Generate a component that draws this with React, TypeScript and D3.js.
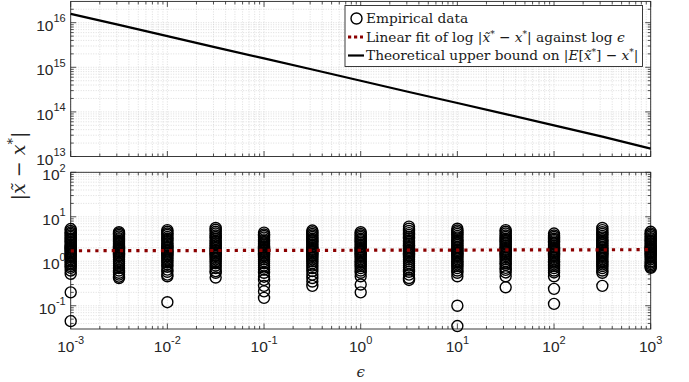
import * as d3 from "d3";
import { useEffect, useRef } from "react";

// epsilon values at which the experiment was run (half-decade steps)
const epsilons = [1e-3, 3.16e-3, 1e-2, 3.16e-2, 0.1, 0.316, 1, 3.16, 10, 31.6, 100, 316, 1000];

// |x~ - x*| for each epsilon column
const empirical = [
  [5.3, 4.8, 4.4, 4.1, 3.8, 3.5, 3.2, 3.0, 2.8, 2.6, 2.4, 2.25, 2.1, 2.0, 1.9, 1.8, 1.7, 1.6, 1.5, 1.4, 1.3, 1.2, 1.1, 1.0, 0.92, 0.85, 0.78, 0.71, 0.62, 0.52, 0.2, 0.045],
  [4.5, 4.2, 3.9, 3.6, 3.3, 3.1, 2.9, 2.7, 2.5, 2.3, 2.15, 2.0, 1.9, 1.8, 1.7, 1.6, 1.5, 1.4, 1.3, 1.2, 1.1, 1.0, 0.9, 0.8, 0.7, 0.62, 0.55, 0.5, 0.45, 0.42],
  [5.0, 4.6, 4.2, 3.9, 3.5, 3.2, 3.0, 2.7, 2.5, 2.3, 2.1, 2.0, 1.85, 1.75, 1.65, 1.55, 1.45, 1.35, 1.25, 1.15, 1.05, 0.95, 0.85, 0.75, 0.65, 0.58, 0.5, 0.46, 0.12],
  [5.6, 5.1, 4.6, 4.2, 3.8, 3.5, 3.2, 2.9, 2.7, 2.5, 2.3, 2.1, 1.95, 1.8, 1.7, 1.6, 1.5, 1.4, 1.3, 1.2, 1.1, 1.0, 0.9, 0.8, 0.7, 0.6, 0.55, 0.43],
  [4.4, 4.0, 3.7, 3.4, 3.1, 2.9, 2.7, 2.5, 2.3, 2.15, 2.0, 1.9, 1.8, 1.7, 1.6, 1.5, 1.4, 1.3, 1.2, 1.1, 1.0, 0.9, 0.8, 0.72, 0.65, 0.55, 0.45, 0.38, 0.28, 0.21, 0.15],
  [4.9, 4.5, 4.1, 3.8, 3.5, 3.2, 3.0, 2.8, 2.6, 2.4, 2.2, 2.05, 1.9, 1.8, 1.7, 1.6, 1.5, 1.4, 1.3, 1.2, 1.1, 1.0, 0.9, 0.8, 0.7, 0.6, 0.5, 0.42, 0.35, 0.28],
  [4.5, 4.1, 3.8, 3.5, 3.2, 3.0, 2.8, 2.6, 2.4, 2.2, 2.05, 1.9, 1.8, 1.7, 1.6, 1.5, 1.4, 1.3, 1.2, 1.1, 1.0, 0.92, 0.85, 0.78, 0.7, 0.62, 0.55, 0.46, 0.3, 0.2],
  [6.0, 5.4, 4.8, 4.3, 3.9, 3.5, 3.2, 2.9, 2.7, 2.5, 2.3, 2.1, 1.95, 1.8, 1.7, 1.6, 1.5, 1.4, 1.3, 1.2, 1.1, 1.0, 0.9, 0.8, 0.72, 0.65, 0.58, 0.5, 0.42, 0.38],
  [5.4, 4.9, 4.5, 4.1, 3.7, 3.4, 3.1, 2.9, 2.7, 2.5, 2.3, 2.1, 1.95, 1.8, 1.7, 1.6, 1.5, 1.4, 1.3, 1.2, 1.1, 1.0, 0.92, 0.85, 0.78, 0.7, 0.62, 0.55, 0.46, 0.1, 0.035],
  [5.0, 4.6, 4.2, 3.8, 3.5, 3.2, 3.0, 2.8, 2.6, 2.4, 2.2, 2.05, 1.9, 1.8, 1.7, 1.6, 1.5, 1.4, 1.3, 1.2, 1.1, 1.0, 0.9, 0.83, 0.71, 0.64, 0.56, 0.46, 0.26],
  [4.2, 3.8, 3.5, 3.2, 3.0, 2.8, 2.6, 2.4, 2.2, 2.05, 1.9, 1.8, 1.7, 1.6, 1.5, 1.4, 1.3, 1.2, 1.1, 1.0, 0.92, 0.85, 0.78, 0.7, 0.62, 0.56, 0.46, 0.24, 0.11],
  [5.6, 5.0, 4.5, 4.1, 3.7, 3.4, 3.1, 2.9, 2.7, 2.5, 2.3, 2.1, 1.95, 1.8, 1.7, 1.6, 1.5, 1.4, 1.3, 1.2, 1.1, 1.0, 0.92, 0.85, 0.78, 0.7, 0.62, 0.55, 0.28],
  [4.6, 4.2, 3.9, 3.6, 3.3, 3.1, 2.9, 2.7, 2.5, 2.3, 2.15, 2.0, 1.9, 1.8, 1.7, 1.6, 1.5, 1.4, 1.3, 1.2, 1.1, 1.0, 0.93, 0.86, 0.8, 0.75, 0.71],
];

// theoretical upper bound on |E[x~*] - x*|
const boundValues = [1.58e16, 8.9e15, 5.0e15, 2.8e15, 1.58e15, 8.9e14, 5.0e14, 2.8e14, 1.58e14, 8.9e13, 5.0e13, 2.8e13, 1.5e13];

// linear fit of log|x~* - x*| against log eps
const fitEps = [1e-3, 1e3];
const fitValues = [1.72, 1.82];

const xTicks = [1e-3, 1e-2, 1e-1, 1e0, 1e1, 1e2, 1e3];
const xTickExps = ["-3", "-2", "-1", "0", "1", "2", "3"];
const topYTicks = [1e13, 1e14, 1e15, 1e16];
const topYTickExps = ["13", "14", "15", "16"];
const bottomYTicks = [1e-1, 1e0, 1e1, 1e2];
const bottomYTickExps = ["-1", "0", "1", "2"];

const FIT_COLOR = "#8b0000";
const AXIS_COLOR = "#262626";
const SERIF = "DejaVu Serif, Liberation Serif, serif";

const minorTicks = (lo, hi) => {
  const out = [];
  for (let e = Math.floor(Math.log10(lo)); e <= Math.ceil(Math.log10(hi)); e++) {
    for (let k = 2; k <= 9; k++) {
      const v = k * Math.pow(10, e);
      if (v > lo && v < hi) out.push(v);
    }
  }
  return out;
};

const App = () => {
  const svgRef = useRef();

  const renderSVG = () => {
    const dims = {
      width: 689,
      height: 382,
      left: 70.7,
      right: 650.7,
      top: { y0: 1.4, y1: 156.5, domain: [1e13, 3e16] },
      bottom: { y0: 172.3, y1: 329, domain: [0.03, 100] },
    };

    const xScale = d3.scaleLog([1e-3, 1e3], [dims.left, dims.right]);
    const yTop = d3.scaleLog(dims.top.domain, [dims.top.y1, dims.top.y0]);
    const yBot = d3.scaleLog(dims.bottom.domain, [dims.bottom.y1, dims.bottom.y0]);

    svgRef.current.innerHTML = "";
    const svg = d3
      .select(svgRef.current)
      .attr("width", dims.width)
      .attr("height", dims.height)
      .attr("viewBox", [0, 0, dims.width, dims.height]);

    svg.append("rect").attr("width", dims.width).attr("height", dims.height).attr("fill", "white");

    const xMinor = minorTicks(1e-3, 1e3);

    const drawPanel = (yScale, panel, yMajor, yExps, showX) => {
      const g = svg.append("g");
      const [lo, hi] = panel.domain;
      const yMinor = minorTicks(lo, hi);

      // grid
      const grid = g.append("g").attr("stroke", "#c8c8c8").attr("stroke-width", 0.6).attr("stroke-dasharray", "1,1.5");
      xMinor.concat(xTicks).forEach((v) => {
        grid.append("line").attr("x1", xScale(v)).attr("x2", xScale(v)).attr("y1", panel.y0).attr("y2", panel.y1);
      });
      yMinor.concat(yMajor).forEach((v) => {
        grid.append("line").attr("x1", dims.left).attr("x2", dims.right).attr("y1", yScale(v)).attr("y2", yScale(v));
      });

      // ticks inward on all sides
      const ticks = g.append("g").attr("stroke", AXIS_COLOR).attr("stroke-width", 0.8);
      const xt = (v, len) => {
        ticks.append("line").attr("x1", xScale(v)).attr("x2", xScale(v)).attr("y1", panel.y1).attr("y2", panel.y1 - len);
        ticks.append("line").attr("x1", xScale(v)).attr("x2", xScale(v)).attr("y1", panel.y0).attr("y2", panel.y0 + len);
      };
      const yt = (v, len) => {
        ticks.append("line").attr("x1", dims.left).attr("x2", dims.left + len).attr("y1", yScale(v)).attr("y2", yScale(v));
        ticks.append("line").attr("x1", dims.right).attr("x2", dims.right - len).attr("y1", yScale(v)).attr("y2", yScale(v));
      };
      xMinor.forEach((v) => xt(v, 3));
      xTicks.forEach((v) => xt(v, 5.5));
      yMinor.forEach((v) => yt(v, 3));
      yMajor.forEach((v) => yt(v, 5.5));

      g.append("rect")
        .attr("x", dims.left)
        .attr("y", panel.y0)
        .attr("width", dims.right - dims.left)
        .attr("height", panel.y1 - panel.y0)
        .attr("fill", "none")
        .attr("stroke", AXIS_COLOR)
        .attr("stroke-width", 0.9);

      // y tick labels
      yMajor.forEach((v, i) => {
        const t = g
          .append("text")
          .attr("x", dims.left - 5)
          .attr("y", yScale(v) + 8)
          .attr("text-anchor", "end")
          .attr("font-family", "Liberation Sans, Arial, sans-serif")
          .attr("font-size", 15.5)
          .attr("fill", AXIS_COLOR);
        t.append("tspan").text("10");
        t.append("tspan").attr("dy", -8.5).attr("font-size", 11).text(yExps[i]);
      });

      if (showX) {
        xTicks.forEach((v, i) => {
          const t = g
            .append("text")
            .attr("x", xScale(v))
            .attr("y", 352)
            .attr("text-anchor", "middle")
            .attr("font-family", "Liberation Sans, Arial, sans-serif")
            .attr("font-size", 15.5)
            .attr("fill", AXIS_COLOR);
          t.append("tspan").text("10");
          t.append("tspan").attr("dy", -8.5).attr("font-size", 11).text(xTickExps[i]);
        });
      }
      return g;
    };

    const topG = drawPanel(yTop, dims.top, topYTicks, topYTickExps, false);
    const botG = drawPanel(yBot, dims.bottom, bottomYTicks, bottomYTickExps, true);

    // theoretical bound line (top panel)
    const boundLine = d3
      .line()
      .x((d, i) => xScale(epsilons[i]))
      .y((d) => yTop(d));
    topG
      .append("path")
      .attr("d", boundLine(boundValues))
      .attr("fill", "none")
      .attr("stroke", "black")
      .attr("stroke-width", 2.2);

    // empirical circles (bottom panel)
    const pts = empirical.flatMap((col, i) => col.map((v) => ({ x: epsilons[i], y: v })));
    botG
      .append("g")
      .selectAll("circle")
      .data(pts)
      .enter()
      .append("circle")
      .attr("cx", (d) => xScale(d.x))
      .attr("cy", (d) => yBot(d.y))
      .attr("r", 5.5)
      .attr("fill", "none")
      .attr("stroke", "black")
      .attr("stroke-width", 1.4);

    // fit line
    const fitLine = d3
      .line()
      .x((d, i) => xScale(fitEps[i]))
      .y((d) => yBot(d));
    botG
      .append("path")
      .attr("d", fitLine(fitValues))
      .attr("fill", "none")
      .attr("stroke", FIT_COLOR)
      .attr("stroke-width", 3.2)
      .attr("stroke-dasharray", "3.2,5");

    // legend
    const lg = svg.append("g");
    lg.append("rect")
      .attr("x", 345)
      .attr("y", 5.5)
      .attr("width", 297.5)
      .attr("height", 61)
      .attr("fill", "white")
      .attr("stroke", AXIS_COLOR)
      .attr("stroke-width", 0.9);

    const rows = [18.5, 37, 55.5];
    lg.append("circle").attr("cx", 356.5).attr("cy", rows[0]).attr("r", 5.5).attr("fill", "none").attr("stroke", "black").attr("stroke-width", 1.4);
    lg.append("line").attr("x1", 348).attr("x2", 363).attr("y1", rows[1]).attr("y2", rows[1])
      .attr("stroke", FIT_COLOR).attr("stroke-width", 3.2).attr("stroke-dasharray", "3.2,2.8");
    lg.append("line").attr("x1", 348).attr("x2", 364).attr("y1", rows[2]).attr("y2", rows[2])
      .attr("stroke", "black").attr("stroke-width", 2.2);

    const legendText = (y) =>
      lg.append("text")
        .attr("x", 366)
        .attr("y", y + 4.5)
        .attr("font-family", SERIF)
        .attr("font-size", 13.7)
        .attr("fill", "#1a1a1a");

    legendText(rows[0]).text("Empirical data");

    const t2 = legendText(rows[1]);
    t2.append("tspan").text("Linear fit of log |");
    t2.append("tspan").attr("font-style", "italic").text("x\u0303");
    t2.append("tspan").attr("dy", -5).attr("font-size", 9).text("*");
    t2.append("tspan").attr("dy", 5).text(" \u2212 ");
    t2.append("tspan").attr("font-style", "italic").text("x");
    t2.append("tspan").attr("dy", -5).attr("font-size", 9).text("*");
    t2.append("tspan").attr("dy", 5).text("| against log ");
    t2.append("tspan").attr("font-style", "italic").text("\u03f5");

    const t3 = legendText(rows[2]);
    t3.append("tspan").text("Theoretical upper bound on |");
    t3.append("tspan").attr("font-style", "italic").text("E");
    t3.append("tspan").text("[");
    t3.append("tspan").attr("font-style", "italic").text("x\u0303");
    t3.append("tspan").attr("dy", -5).attr("font-size", 9).text("*");
    t3.append("tspan").attr("dy", 5).text("] \u2212 ");
    t3.append("tspan").attr("font-style", "italic").text("x");
    t3.append("tspan").attr("dy", -5).attr("font-size", 9).text("*");
    t3.append("tspan").attr("dy", 5).text("|");

    // axis labels
    svg.append("text")
      .attr("x", (dims.left + dims.right) / 2)
      .attr("y", 377)
      .attr("text-anchor", "middle")
      .attr("font-family", SERIF)
      .attr("font-style", "italic")
      .attr("font-size", 15)
      .attr("fill", AXIS_COLOR)
      .text("\u03f5");

    const yl = svg.append("text")
      .attr("transform", "translate(25,166) rotate(-90)")
      .attr("text-anchor", "middle")
      .attr("font-family", SERIF)
      .attr("font-size", 19)
      .attr("fill", AXIS_COLOR);
    yl.append("tspan").text("|");
    yl.append("tspan").attr("font-style", "italic").text("x\u0303");
    yl.append("tspan").text(" \u2212 ");
    yl.append("tspan").attr("font-style", "italic").text("x");
    yl.append("tspan").attr("dy", -8).attr("font-size", 13).text("*");
    yl.append("tspan").attr("dy", 8).text("|");
  };

  useEffect(() => {
    renderSVG();
  });

  return <svg ref={svgRef} style={{ position: "absolute", left: 0, top: 0 }} />;
};

export default App;
